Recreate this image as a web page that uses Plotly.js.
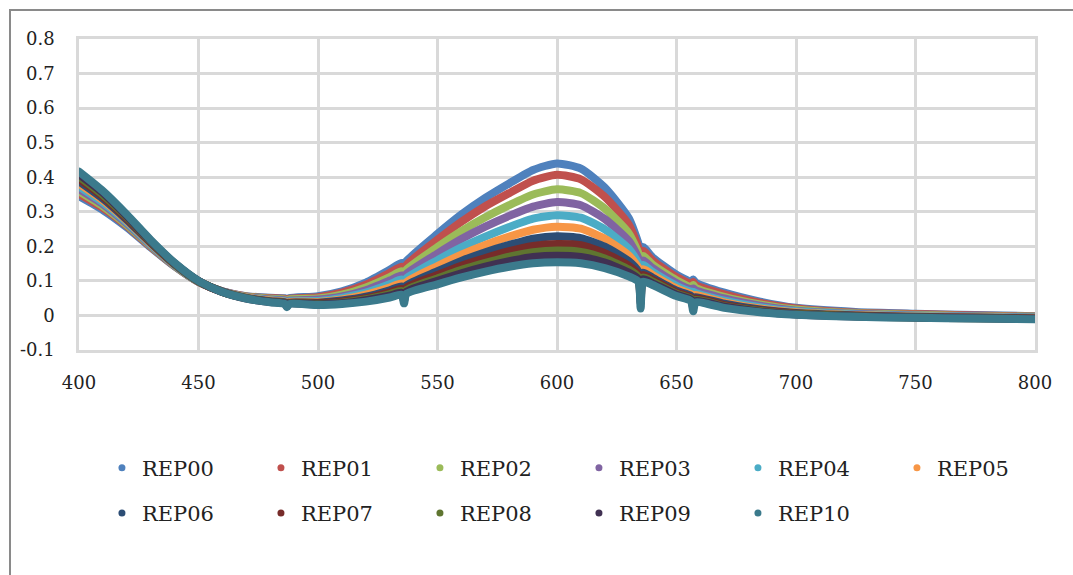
<!DOCTYPE html>
<html><head><meta charset="utf-8">
<script src="https://cdn.plot.ly/plotly-3.0.1.min.js"></script>
<style>
html,body{margin:0;padding:0;background:#fff;overflow:hidden}
#chart{width:1073px;height:575px}
#frame{position:absolute;left:9px;top:9px;width:1100px;height:620px;border:2px solid #8a8a8a;pointer-events:none;z-index:5}
.js-line{stroke-linejoin:round!important;stroke-linecap:round!important}
</style></head><body>
<div id="chart"></div><div id="frame"></div>
<script>
const wavelength = [400,410,420,430,440,450,460,470,480,486,487,488,500,510,520,530,535,536,537,550,560,570,580,590,600,610,620,630,634,635,636,640,650,656,657,658,670,685,700,725,750,775,800];

const REP00 = [.345,.305,.255,.197,.142,.097,.070,.056,.051,.050,.046,.050,.056,.070,.095,.132,.152,.140,.157,.236,.292,.340,.382,.421,.440,.425,.370,.282,.210,.175,.198,.168,.118,.098,.104,.095,.066,.040,.022,.010,.005,.001,-.002];
const REP01 = [.352,.311,.259,.199,.143,.097,.070,.055,.050,.048,.044,.048,.053,.066,.089,.123,.141,.128,.146,.219,.271,.316,.354,.390,.407,.394,.343,.263,.197,.160,.187,.159,.111,.092,.097,.088,.061,.036,.020,.008,.004,.000,-.003];
const REP02 = [.359,.316,.262,.201,.144,.098,.069,.054,.048,.046,.041,.046,.049,.060,.081,.111,.128,.115,.132,.198,.244,.284,.319,.350,.365,.354,.309,.238,.181,.145,.172,.147,.102,.083,.088,.080,.054,.032,.017,.006,.002,-.002,-.004];
const REP03 = [.366,.322,.266,.203,.145,.098,.069,.053,.046,.044,.039,.043,.046,.055,.073,.101,.116,.103,.120,.179,.221,.257,.288,.315,.328,.319,.279,.216,.166,.130,.159,.137,.094,.076,.078,.073,.049,.028,.014,.005,.000,-.003,-.006];
const REP04 = [.373,.327,.270,.205,.146,.098,.069,.052,.044,.042,.037,.041,.042,.051,.066,.090,.104,.090,.107,.160,.197,.228,.256,.280,.290,.283,.249,.193,.151,.115,.146,.126,.086,.069,.068,.065,.043,.024,.012,.003,-.001,-.004,-.007];
const REP05 = [.381,.333,.274,.208,.147,.099,.069,.052,.043,.040,.034,.039,.039,.046,.060,.081,.093,.078,.096,.143,.176,.204,.228,.248,.257,.251,.222,.174,.138,.100,.134,.117,.078,.062,.058,.059,.038,.020,.009,.001,-.003,-.005,-.008];
const REP06 = [.388,.338,.277,.210,.148,.099,.069,.051,.041,.038,.032,.037,.037,.043,.054,.073,.084,.068,.087,.128,.158,.183,.204,.222,.229,.224,.199,.157,.127,.085,.124,.109,.072,.057,.050,.053,.034,.017,.007,.000,-.004,-.006,-.009];
const REP07 = [.395,.344,.281,.212,.149,.099,.068,.050,.040,.037,.030,.036,.035,.040,.050,.067,.077,.058,.080,.117,.144,.166,.186,.201,.207,.203,.180,.144,.119,.065,.117,.103,.067,.052,.040,.049,.030,.015,.006,-.001,-.005,-.007,-.009];
const REP08 = [.402,.349,.285,.214,.150,.099,.068,.050,.040,.036,.028,.035,.033,.037,.047,.062,.071,.050,.073,.107,.132,.152,.170,.183,.188,.184,.165,.133,.111,.050,.110,.098,.063,.049,.032,.045,.027,.013,.004,-.002,-.006,-.008,-.010];
const REP09 = [.409,.355,.288,.216,.151,.100,.068,.049,.039,.035,.026,.034,.032,.035,.044,.057,.066,.042,.068,.100,.122,.141,.157,.169,.173,.169,.153,.124,.105,.035,.105,.093,.060,.046,.022,.042,.025,.011,.003,-.003,-.006,-.008,-.010];
const REP10 = [.416,.360,.292,.218,.152,.100,.068,.049,.038,.034,.024,.033,.030,.033,.040,.052,.060,.035,.062,.090,.110,.127,.141,.151,.154,.151,.137,.113,.098,.020,.098,.088,.056,.042,.012,.038,.022,.009,.002,-.004,-.007,-.009,-.011];

const seriesNames = ["REP00","REP01","REP02","REP03","REP04","REP05","REP06","REP07","REP08","REP09","REP10"];
const seriesValues = [REP00,REP01,REP02,REP03,REP04,REP05,REP06,REP07,REP08,REP09,REP10];
const seriesColors = ["#4F81BD","#C0504D","#9BBB59","#8064A2","#4BACC6","#F79646","#2C4D75","#772C2A","#5F7530","#403152","#3B7A8C"];

const xTicks = [400,450,500,550,600,650,700,750,800];
const xTickText = ["400","450","500","550","600","650","700","750","800"];
const yTicks = [-0.1,0,0.1,0.2,0.3,0.4,0.5,0.6,0.7,0.8];
const yTickText = ["-0.1","0","0.1","0.2","0.3","0.4","0.5","0.6","0.7","0.8"];

const FONT = "DejaVu Serif, Liberation Serif, serif";
const traces = [];
seriesNames.forEach((n,i)=>{
  traces.push({x:wavelength, y:seriesValues[i], type:'scatter', mode:'lines', name:n,
    line:{color:seriesColors[i], width:8, shape:'spline', smoothing:0.6},
    showlegend:false, hoverinfo:'x+y+name'});
});
seriesNames.forEach((n,i)=>{
  traces.push({x:[null], y:[null], type:'scatter', mode:'markers', name:n,
    marker:{color:seriesColors[i], size:7}, showlegend:true,
    legend: i<6 ? 'legend' : 'legend2', hoverinfo:'skip'});
});

const legendCommon = {orientation:'h', xanchor:'left', yanchor:'middle', font:{family:FONT,size:21,color:'#222'},
  entrywidth:114, entrywidthmode:'pixels', bgcolor:'rgba(0,0,0,0)', itemclick:false, itemdoubleclick:false};

const layout = {
  width:1073, height:575,
  margin:{l:79, r:38, t:38.5, b:225.3},
  paper_bgcolor:'#fff', plot_bgcolor:'#fff',
  font:{family:FONT, size:18, color:'#222'},
  xaxis:{range:[400,800], tickmode:'array', tickvals:xTicks, ticktext:xTickText,
    showgrid:true, gridcolor:'#d9d9d9', gridwidth:2.5, zeroline:false,
    showline:true, linecolor:'#d9d9d9', linewidth:2.5, mirror:true, ticks:'',
    ticklabelstandoff:15, tickfont:{family:FONT,size:18,color:'#222'}},
  yaxis:{range:[-0.1,0.8], tickmode:'array', tickvals:yTicks, ticktext:yTickText,
    showgrid:true, gridcolor:'#d9d9d9', gridwidth:2.5, zeroline:false,
    showline:true, linecolor:'#d9d9d9', linewidth:2.5, mirror:true, ticks:'',
    ticklabelstandoff:18, tickfont:{family:FONT,size:18,color:'#222'}},
  legend:Object.assign({x:0.024, y:-0.380}, legendCommon),
  legend2:Object.assign({x:0.024, y:-0.525}, legendCommon),
  showlegend:true
};
Plotly.newPlot('chart', traces, layout, {staticPlot:false, displayModeBar:false});
</script>
</body></html>
